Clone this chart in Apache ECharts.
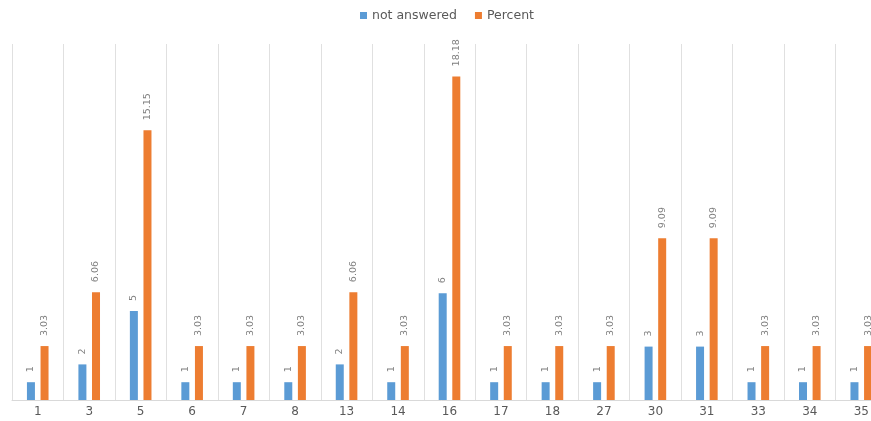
<!DOCTYPE html>
<html>
<head>
<meta charset="utf-8">
<script src="https://cdn.jsdelivr.net/npm/echarts@6/dist/echarts.min.js"></script>
<style>
html,body{margin:0;padding:0;background:#fff;}
#chart{width:871px;height:421px;}
</style>
</head>
<body>
<div id="chart"></div>
<script>
var categories = ['1','3','5','6','7','8','13','14','16','17','18','27','30','31','33','34','35'];
var notAnswered = [1,2,5,1,1,1,2,1,6,1,1,1,3,3,1,1,1];
var percent = [3.03,6.06,15.15,3.03,3.03,3.03,6.06,3.03,18.18,3.03,3.03,3.03,9.09,9.09,3.03,3.03,3.03];

var chart = echarts.init(document.getElementById('chart'));
var labelCfg = {
  show: true,
  position: 'top',
  rotate: 90,
  align: 'left',
  verticalAlign: 'middle',
  distance: 10,
  color: '#7f7f7f',
  fontSize: 9.5,
  fontFamily: 'DejaVu Sans'
};
chart.setOption({
  animation: false,
  textStyle: {fontFamily: 'DejaVu Sans'},
  legend: {
    top: 4,
    left: 355,
    itemWidth: 7,
    itemHeight: 7,
    itemGap: 18,
    itemTextGap: 6,
    icon: 'rect',
    textStyle: {color: '#595959', fontSize: 12.5, fontFamily: 'DejaVu Sans'},
    data: ['not answered', 'Percent']
  },
  grid: {left: 12, width: 875, top: 44, bottom: 21, containLabel: false, outerBoundsMode: 'none'},
  xAxis: {
    type: 'category',
    data: categories,
    axisLine: {show: true, lineStyle: {color: '#d9d9d9'}},
    axisTick: {show: false},
    axisLabel: {color: '#595959', fontSize: 12, margin: 6, fontFamily: 'DejaVu Sans'},
    splitLine: {show: true, lineStyle: {color: '#e0e0e0', width: 1}}
  },
  yAxis: {
    type: 'value',
    min: 0,
    max: 20,
    show: false,
    splitLine: {show: false}
  },
  series: [
    {
      name: 'not answered',
      type: 'bar',
      data: notAnswered,
      barWidth: 8,
      barGap: '70%',
      itemStyle: {color: '#5B9BD5'},
      label: labelCfg
    },
    {
      name: 'Percent',
      type: 'bar',
      data: percent,
      barWidth: 8,
      itemStyle: {color: '#ED7D31'},
      label: labelCfg
    }
  ]
});
</script>
</body>
</html>
